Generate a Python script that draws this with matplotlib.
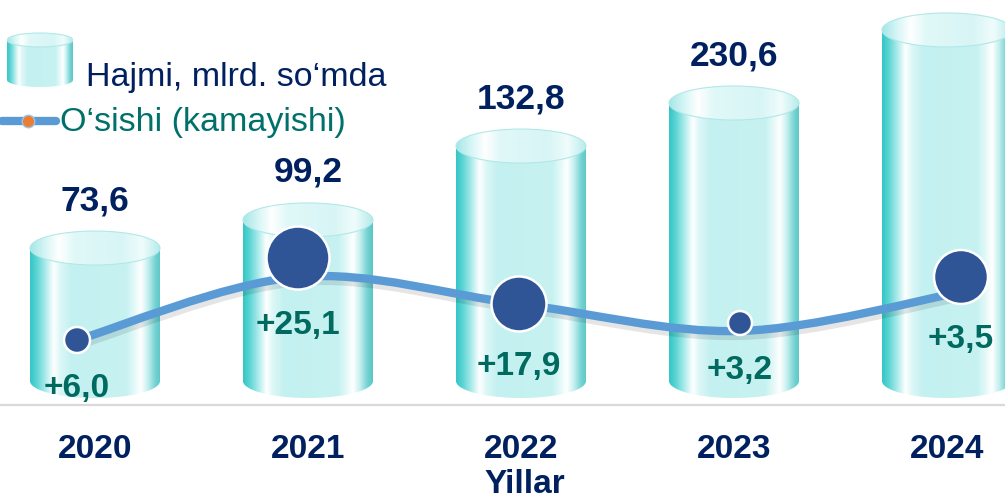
import numpy as np
import matplotlib
matplotlib.use("Agg")
import matplotlib.pyplot as plt
from matplotlib.colors import LinearSegmentedColormap
from matplotlib.patches import Polygon, Ellipse, PathPatch
from matplotlib.path import Path
from matplotlib.lines import Line2D
import matplotlib.transforms as mtransforms

plt.rcParams['font.family'] = ['Liberation Sans', 'DejaVu Sans']

# ---------------- data ----------------
years = ['2020', '2021', '2022', '2023', '2024']
volume = [73.6, 99.2, 132.8, 230.6, None]        # labelled values (2024 label outside the picture)
cyl_height = [110.3, 133.6, 194.9, 230.6, 291.2]  # cylinder heights as drawn (chart not to scale)
growth = [6.0, 25.1, 17.9, 3.2, 3.5]
line_level = [34.0, 86.3, 63.9, 41.5, 73.8]       # smoothed line level as drawn
bubble_level = [34.0, 102.0, 63.9, 48.1, 86.3]    # bubble centres as drawn
bubble_diam = [26, 63, 55, 24, 54]                # bubble sizes (px) as drawn

# ---------------- figure ----------------
W, H = 1005, 500
fig = plt.figure(figsize=(W / 100, H / 100), dpi=100)
ax = fig.add_axes([0, 0, 1, 1])
PX = 1.2055            # pixels per value unit
BASE_PX = 381          # baseline pixel row
STEP1, X01 = 213, 95   # cylinder category spacing / first centre (px)
STEP2, X02 = 221, 77   # line/bubble category spacing / first centre (px)

navy = '#002060'
teal_txt = '#006a60'

side_cmap = LinearSegmentedColormap.from_list('side', [
    (0.00, '#34c6c6'), (0.05, '#5cd4d4'), (0.12, '#b0ecec'), (0.18, '#ffffff'),
    (0.23, '#dcf7f7'), (0.32, '#c3f0f0'), (0.74, '#c8f2f2'), (0.85, '#ffffff'),
    (0.90, '#c8f0f0'), (0.96, '#74d2d2'), (1.00, '#5ac6c6')])
top_cmap = LinearSegmentedColormap.from_list('top', [
    (0.00, '#a6e6e6'), (0.12, '#d8f6f6'), (0.22, '#ffffff'), (0.34, '#e0f8f8'),
    (0.70, '#d8f5f5'), (0.86, '#f0fcfc'), (1.00, '#b4eaea')])
grad = np.linspace(0, 1, 256).reshape(1, -1)


def draw_cyl(axx, xc, w, y0, y1, b, z=1):
    t = np.linspace(np.pi, 2 * np.pi, 80)
    verts = list(zip(xc + (w / 2) * np.cos(t), y0 + b * np.sin(t)))
    verts += [(xc + w / 2, y1), (xc - w / 2, y1)]
    body = Polygon(verts, closed=True, facecolor='none', edgecolor='none',
                   transform=axx.transData)
    axx.add_patch(body)
    im = axx.imshow(grad, cmap=side_cmap, extent=[xc - w / 2, xc + w / 2, y0 - b, y1],
                    aspect='auto', interpolation='bicubic', zorder=z)
    im.set_clip_path(body)
    top = Ellipse((xc, y1), w, 2 * b, facecolor='none', edgecolor='none',
                  transform=axx.transData)
    axx.add_patch(top)
    im2 = axx.imshow(grad, cmap=top_cmap, extent=[xc - w / 2, xc + w / 2, y1 - b, y1 + b],
                     aspect='auto', interpolation='bicubic', zorder=z + 0.1)
    im2.set_clip_path(top)
    axx.add_patch(Ellipse((xc, y1), w, 2 * b, facecolor='none', edgecolor='#b2e8e8',
                          lw=0.8, zorder=z + 0.2))


cw = 130 / STEP1
cb = 17 / PX
for i, h in enumerate(cyl_height):
    draw_cyl(ax, i, cw, 0, h, cb, z=1)
    if volume[i] is not None:
        ax.annotate(f"{volume[i]:.1f}".replace('.', ','), xy=(i, h), xytext=(0, (17 + 21) * 0.72),
                    textcoords='offset points', ha='center', va='baseline',
                    fontsize=25.5, fontweight='bold', color=navy, zorder=6)

ax.set_xlim(-X01 / STEP1, (W - X01) / STEP1)
ax.set_ylim(-(H - BASE_PX) / PX, BASE_PX / PX)
ax.axis('off')

# category axis line
ax.axhline(-(405 - BASE_PX) / PX, color='#d9d9d9', lw=1.6, zorder=0.5)

# year labels
btr = mtransforms.blended_transform_factory(ax.transData, ax.transAxes)
for i, yr in enumerate(years):
    ax.text(i, (H - 458) / H, yr, transform=btr, ha='center', va='baseline',
            fontsize=24, fontweight='bold', color=navy)
fig.text(525 / W, (H - 493) / H, 'Yillar', ha='center', va='baseline',
         fontsize=24, fontweight='bold', color=navy)

# ---------------- line + bubbles (secondary x scale) ----------------
ax2 = ax.twiny()
ax2.set_xlim(-X02 / STEP2, (W - X02) / STEP2)
ax2.axis('off')

pts = np.array([[j, v] for j, v in enumerate(line_level)], dtype=float)
n = len(pts)
verts = [tuple(pts[0])]
codes = [Path.MOVETO]
for k in range(n - 1):
    p0 = pts[k - 1] if k > 0 else pts[k]
    p1, p2 = pts[k], pts[k + 1]
    p3 = pts[k + 2] if k + 2 < n else pts[k + 1]
    c1 = p1 + (p2 - p0) / 6
    c2 = p2 - (p3 - p1) / 6
    verts += [tuple(c1), tuple(c2), tuple(p2)]
    codes += [Path.CURVE4] * 3
path = Path(verts, codes)
shadow_tr = mtransforms.offset_copy(ax2.transData, fig=fig, x=1.5, y=-3.5, units='dots')
ax2.add_patch(PathPatch(path, facecolor='none', edgecolor='#000000', alpha=0.10, lw=8,
                        transform=shadow_tr, zorder=2.5, capstyle='round'))
ax2.add_patch(PathPatch(path, facecolor='none', edgecolor='#5b9bd5', lw=6,
                        zorder=3, capstyle='round'))

bx = np.arange(len(bubble_level))
sizes = [(d * 0.72) ** 2 for d in bubble_diam]
ax2.scatter(bx, bubble_level, s=sizes, c='#2f5597', edgecolors='white', linewidths=1.8,
            zorder=4)
for j, g in enumerate(growth):
    ax2.annotate(f"+{g:.1f}".replace('.', ','), xy=(j, bubble_level[j]),
                 xytext=(0, -(bubble_diam[j] / 2 + 44) * 0.72), textcoords='offset points',
                 ha='center', va='baseline', fontsize=24, fontweight='bold',
                 color=teal_txt, zorder=6)

# ---------------- legend ----------------
lax = fig.add_axes([7 / W, (H - 92) / H, 66 / W, 62 / H])
lax.axis('off')
draw_cyl(lax, 0, 66, 12, 52, 7, z=1)
lax.set_xlim(-33, 33)
lax.set_ylim(0, 62)

fig.text(86 / W, (H - 86) / H, 'Hajmi, mlrd. so‘mda', ha='left', va='baseline',
         fontsize=24.5, color=navy)
fig.text(60 / W, (H - 131) / H, 'O‘sishi (kamayishi)', ha='left', va='baseline',
         fontsize=24.5, color='#00706a')
ly = (H - 121) / H
fig.add_artist(Line2D([2 / W, 56 / W], [ly, ly], transform=fig.transFigure, lw=6,
                      color='#5b9bd5', solid_capstyle='round'))
fig.add_artist(Line2D([28 / W], [ly], transform=fig.transFigure, marker='o', ms=9,
                      mfc='#ed7d31', mec='#9dc3e6', mew=1, lw=0))

fig.savefig('out.png', dpi=100)
